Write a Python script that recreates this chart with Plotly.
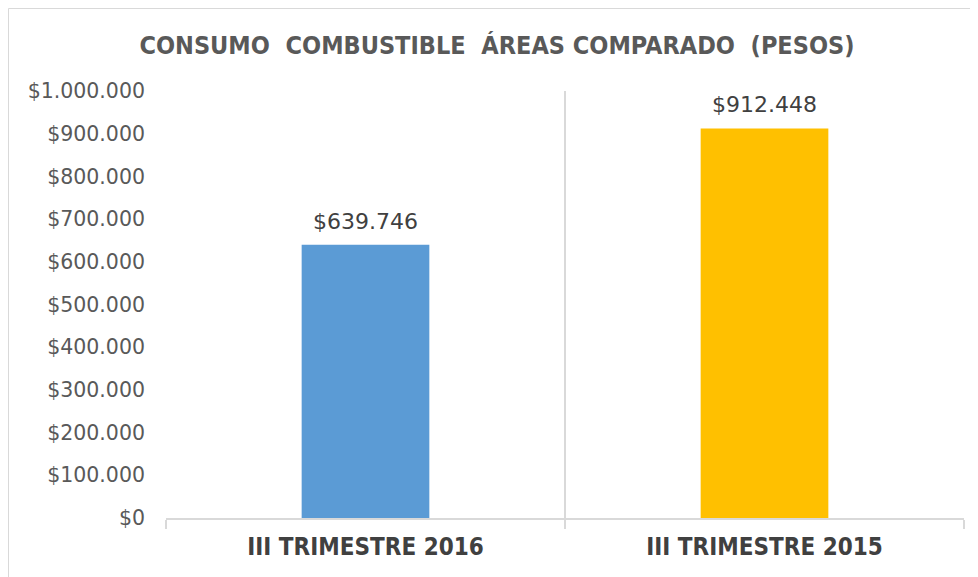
import plotly.graph_objects as go

categories = ["III TRIMESTRE 2016", "III TRIMESTRE 2015"]
values = [639746, 912448]
colors = ["#5B9BD5", "#FFC000"]
y_ticks = [0, 100000, 200000, 300000, 400000, 500000, 600000, 700000, 800000, 900000, 1000000]
y_tick_labels = ["$0", "$100.000", "$200.000", "$300.000", "$400.000", "$500.000",
                 "$600.000", "$700.000", "$800.000", "$900.000", "$1.000.000"]

W, H = 978, 577
OFF = 8  # page body margin
L, T = 166 - OFF, 91 - OFF
pw, ph = 798, 427
R, B = W - L - pw, H - T - ph

fig = go.Figure(go.Bar(
    x=categories, y=values, marker=dict(color=colors, line=dict(width=0)),
    hoverinfo="skip",
))

for c, v in zip(categories, values):
    fig.add_annotation(x=c, y=v, text="$" + f"{v:,d}".replace(",", "."),
                       showarrow=False, yanchor="bottom", yshift=9,
                       font=dict(family="DejaVu Sans", size=22, color="#404040"))

grid = "#D9D9D9"
bold_font = "Liberation Sans Narrow, DejaVu Sans Condensed, Arial Narrow, DejaVu Sans, sans-serif"
fig.update_layout(
    width=W, height=H, margin=dict(l=L, r=R, t=T, b=B),
    paper_bgcolor="white", plot_bgcolor="white",
    separators=",.",
    bargap=0.68, showlegend=False,
    title=dict(text="CONSUMO&nbsp; COMBUSTIBLE&nbsp; ÁREAS COMPARADO&nbsp; (PESOS)",
               x=(497 - OFF) / W, xanchor="center", y=1 - (45 - OFF) / H, yanchor="middle",
               font=dict(family=bold_font, size=25, color="#595959", weight="bold")),
    xaxis=dict(type="category", tickson="boundaries", showgrid=True, gridcolor=grid, gridwidth=2,
               showline=True, linecolor=grid, linewidth=2, ticks="outside", ticklen=9,
               tickcolor=grid, tickwidth=2, ticklabelstandoff=6,
               tickfont=dict(family=bold_font, size=24, color="#404040", weight="bold"),
               range=[-0.5, 1.5], fixedrange=True),
    yaxis=dict(range=[0, 1000000], tickvals=y_ticks, ticktext=y_tick_labels,
               showgrid=False, zeroline=False, showline=False, ticks="",
               ticklabelstandoff=20,
               tickfont=dict(family="DejaVu Sans", size=20.5, color="#595959"),
               fixedrange=True),
    shapes=[dict(type="rect", xref="paper", yref="paper",
                 x0=(0.5 - L) / pw, x1=(W + 20 - L) / pw,
                 y0=-(H + 20 - T - ph) / ph, y1=(T + ph - 0.5) / ph,
                 line=dict(color=grid, width=1), layer="below")],
)

fig.write_html("out.html")
